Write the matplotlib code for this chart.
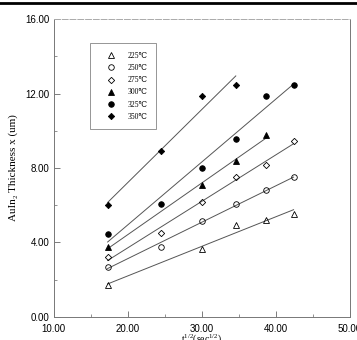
import numpy as np
import matplotlib
matplotlib.use("Agg")
import matplotlib.pyplot as plt
from matplotlib.lines import Line2D
from matplotlib.ticker import MultipleLocator, FormatStrFormatter

plt.rcParams["mathtext.fontset"] = "custom"
plt.rcParams["mathtext.rm"] = "Liberation Serif"
plt.rcParams["mathtext.it"] = "Liberation Serif:italic"

# sqrt(t) in sec^1/2, thickness in um
labels = ["225\u2103", "250\u2103", "275\u2103", "300\u2103", "325\u2103", "350\u2103"]

x_225 = [17.3, 30.0, 34.6, 38.7, 42.4]
y_225 = [1.70, 3.67, 4.91, 5.20, 5.52]

x_250 = [17.3, 24.5, 30.0, 34.6, 38.7, 42.4]
y_250 = [2.70, 3.78, 5.16, 6.04, 6.79, 7.49]

x_275 = [17.3, 24.5, 30.0, 34.6, 38.7, 42.4]
y_275 = [3.24, 4.53, 6.15, 7.54, 8.17, 9.46]

x_300 = [17.3, 30.0, 34.6, 38.7]
y_300 = [3.73, 7.06, 8.39, 9.75]

x_325 = [17.3, 24.5, 30.0, 34.6, 38.7, 42.4]
y_325 = [4.45, 6.08, 8.00, 9.57, 11.87, 12.46]

x_350 = [17.3, 24.5, 30.0, 34.6]
y_350 = [6.00, 8.90, 11.85, 12.45]

series = [
    (x_225, y_225, "^", "none"),
    (x_250, y_250, "o", "none"),
    (x_275, y_275, "D", "none"),
    (x_300, y_300, "^", "black"),
    (x_325, y_325, "o", "black"),
    (x_350, y_350, "D", "black"),
]

serif = ["Liberation Serif", "DejaVu Serif", "Noto Sans CJK SC"]

fig = plt.figure(figsize=(3.57, 3.40), dpi=100)
ax = fig.add_axes([0.150, 0.068, 0.830, 0.876])

handles = []
for (xs, ys, mk, fc), lab in zip(series, labels):
    xs = np.array(xs)
    ys = np.array(ys)
    k, b = np.polyfit(xs, ys, 1)
    xx = np.array([xs.min(), xs.max()])
    ax.plot(xx, k * xx + b, color="#555555", lw=0.7, zorder=1)
    ms = 3.2 if mk == "D" else 4.0
    h, = ax.plot(xs, ys, linestyle="none", marker=mk, ms=ms, mfc=fc,
                 mec="black", mew=0.6, zorder=2, label=lab)
    handles.append(h)

ax.set_xlim(10, 50)
ax.set_ylim(0, 16)
ax.xaxis.set_major_locator(MultipleLocator(10))
ax.xaxis.set_minor_locator(MultipleLocator(5))
ax.yaxis.set_major_locator(MultipleLocator(4))
ax.yaxis.set_minor_locator(MultipleLocator(2))
ax.xaxis.set_major_formatter(FormatStrFormatter("%.2f"))
ax.yaxis.set_major_formatter(FormatStrFormatter("%.2f"))
ax.tick_params(which="both", direction="in", color="#666666",
               labelsize=7, labelfontfamily="Liberation Sans")
ax.tick_params(which="major", length=4, width=0.6)
ax.tick_params(which="minor", length=2.5, width=0.5)
ax.tick_params(axis="x", pad=5)
ax.tick_params(axis="y", pad=3)
for s in ax.spines.values():
    s.set_color("#777777")
    s.set_linewidth(0.7)
ax.spines["top"].set_linestyle((0, (6, 2)))
ax.spines["top"].set_color("#aaaaaa")

ax.set_ylabel("AuIn\u2082 Thickness x (um)", family=serif,
              fontsize=8, labelpad=5)
ax.set_xlabel("t$^{1/2}$(sec$^{1/2}$)", family=serif,
              fontsize=7, labelpad=-1)

leg = ax.legend(handles=handles, loc="upper left",
                bbox_to_anchor=(0.122, 0.918),
                prop={"family": serif, "size": 5.5},
                frameon=True, fancybox=False, borderpad=1.1,
                labelspacing=0.55, handletextpad=0.4, handlelength=3.5,
                borderaxespad=0)
leg.get_frame().set_edgecolor("#666666")
leg.get_frame().set_linewidth(0.6)

# border line at top of image
fig.add_artist(Line2D([0, 1], [0.990, 0.990], transform=fig.transFigure,
                      color="black", lw=2.0))

fig.savefig("out.png", dpi=100)
